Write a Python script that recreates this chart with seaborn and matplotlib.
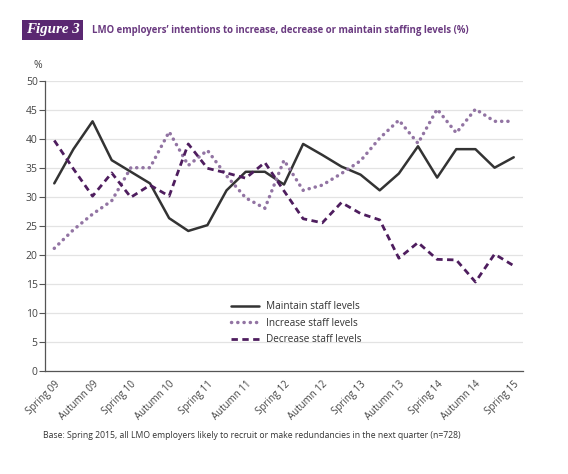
import numpy as np
import pandas as pd
import matplotlib
matplotlib.use("Agg")
import matplotlib.pyplot as plt
import seaborn as sns

# quarterly survey waves, Spring 09 .. Spring 15
waves = [
    "Spring 09", "Summer 09", "Autumn 09", "Winter 09/10",
    "Spring 10", "Summer 10", "Autumn 10", "Winter 10/11",
    "Spring 11", "Summer 11", "Autumn 11", "Winter 11/12",
    "Spring 12", "Summer 12", "Autumn 12", "Winter 12/13",
    "Spring 13", "Summer 13", "Autumn 13", "Winter 13/14",
    "Spring 14", "Summer 14", "Autumn 14", "Winter 14/15",
    "Spring 15",
]
tick_labels = ["Spring 09", "Autumn 09", "Spring 10", "Autumn 10", "Spring 11",
               "Autumn 11", "Spring 12", "Autumn 12", "Spring 13", "Autumn 13",
               "Spring 14", "Autumn 14", "Spring 15"]

maintain = [32.3, 38.2, 43.0, 36.3, 34.3, 32.3, 26.3, 24.1, 25.1, 31.1, 34.3, 34.3, 32.1,
            39.1, 37.2, 35.2, 33.8, 31.1, 34.0, 38.7, 33.3, 38.2, 38.2, 35.0, 36.8]
increase = [21.1, 24.3, 27.0, 29.3, 35.0, 35.0, 41.2, 35.4, 38.0, 33.6, 29.8, 28.0, 36.3,
            31.1, 32.0, 34.0, 36.2, 40.1, 43.2, 39.2, 45.1, 41.0, 45.1, 43.0, 43.0]
decrease = [39.7, 34.8, 30.1, 34.1, 29.9, 32.0, 30.1, 39.1, 34.9, 34.1, 33.2, 35.9, 31.0,
            26.2, 25.5, 29.0, 27.1, 26.0, 19.4, 22.1, 19.2, 19.1, 15.3, 20.1, 18.1]

df = pd.DataFrame({
    "pos": np.arange(len(waves)),
    "wave": waves,
    "Maintain staff levels": maintain,
    "Increase staff levels": increase,
    "Decrease staff levels": decrease,
})

sns.set_style("white")
plt.rcParams["font.family"] = ["Open Sans", "DejaVu Sans"]

fig = plt.figure(figsize=(5.68, 4.74), dpi=100)
ax = fig.add_axes([0.0787, 0.2179, 0.8426, 0.6118])

sns.lineplot(data=df, x="pos", y="Maintain staff levels", ax=ax, color="#333333",
             linewidth=1.8, label="Maintain staff levels")
sns.lineplot(data=df, x="pos", y="Increase staff levels", ax=ax, color="#9274a3",
             linewidth=2.5, linestyle=(0, (0.05, 1.75)), dash_capstyle="round",
             label="Increase staff levels")
sns.lineplot(data=df, x="pos", y="Decrease staff levels", ax=ax, color="#4e1d5e",
             linewidth=2.0, linestyle=(0, (2.3, 1.6)), label="Decrease staff levels")

ax.set_xlim(-0.5, len(waves) - 0.5)
ax.set_ylim(0, 50)
ax.set_yticks(range(0, 51, 5))
ax.yaxis.grid(True, color="#e3e3e3", linewidth=0.9)
ax.set_axisbelow(True)

ax.set_xticks(np.arange(0, len(waves), 2))
ax.set_xticklabels(tick_labels, rotation=45, ha="right", rotation_mode="anchor",
                   fontsize=7, color="#444444")
ax.set_xticks(np.arange(-0.5, len(waves), 1), minor=True)
ax.tick_params(axis="x", which="major", length=0, pad=6)
ax.tick_params(axis="x", which="minor", direction="inout", length=6, width=0.8,
               color="#555555")
ax.tick_params(axis="y", direction="out", length=4, width=0.8, color="#555555",
               labelsize=7.5, labelcolor="#444444", pad=1, left=True)

ax.set_xlabel("")
ax.set_ylabel("")
for side in ["top", "right"]:
    ax.spines[side].set_visible(False)
for side in ["left", "bottom"]:
    ax.spines[side].set_color("#555555")
    ax.spines[side].set_linewidth(0.9)

leg = ax.legend(loc="upper left", bbox_to_anchor=(0.37, 0.27), frameon=False,
                fontsize=7.2, handlelength=2.8, labelspacing=0.55, handletextpad=0.7)
for t in leg.get_texts():
    t.set_color("#333333")

fig.text(34 / 568, 1 - 66 / 474, "%", fontsize=7.5, color="#444444", va="center")

# header: purple figure tag and title
fig.text(52.5 / 568, 1 - 30 / 474, "Figure 3", family=["Liberation Serif", "DejaVu Serif"],
         fontsize=10.8, fontweight="bold", style="italic", color="white",
         ha="center", va="center",
         bbox=dict(boxstyle="square,pad=0.22", facecolor="#5a2771", edgecolor="none"))
fig.text(92 / 568, 1 - 30 / 474,
         "LMO employers\u2019 intentions to increase, decrease or maintain staffing levels (%)",
         fontsize=6.9, fontweight="bold", color="#6a3a80", va="center")

fig.text(43 / 568, 1 - 436 / 474,
         "Base: Spring 2015, all LMO employers likely to recruit or make redundancies in the next quarter (n=728)",
         fontsize=6.2, color="#333333", va="center")

fig.savefig("out.png", dpi=100)
